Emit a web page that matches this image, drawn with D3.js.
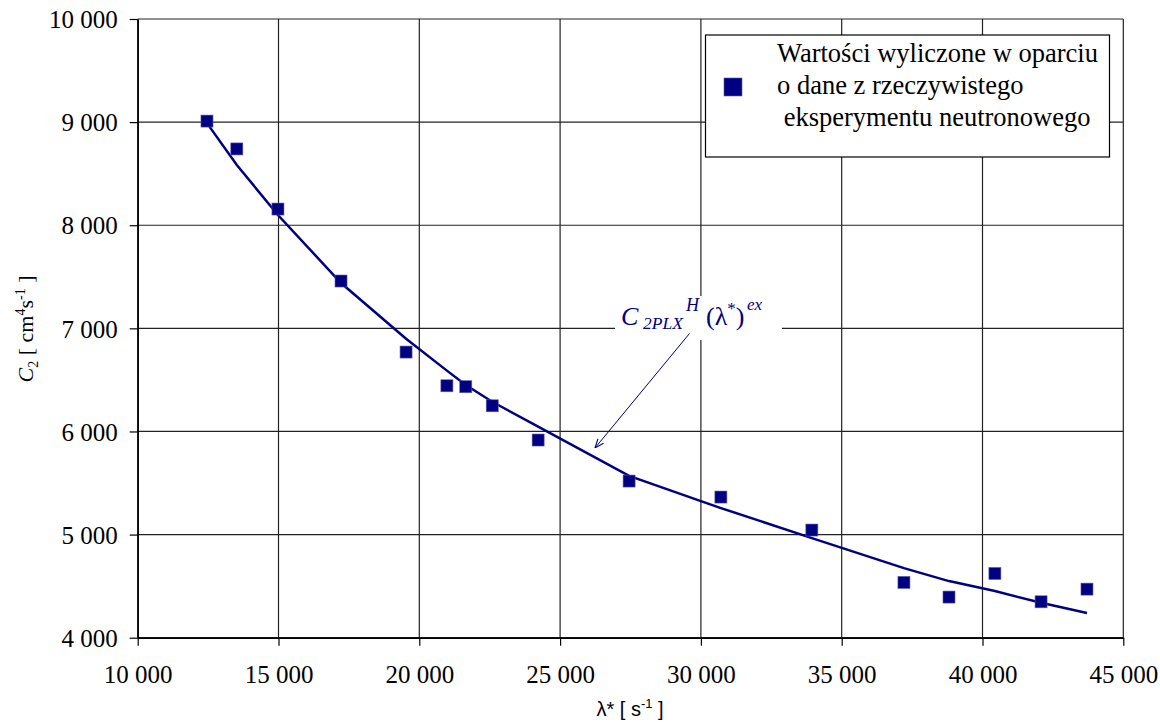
<!DOCTYPE html>
<html>
<head>
<meta charset="utf-8">
<script src="https://cdn.jsdelivr.net/npm/d3@7"></script>
<style>
  body { margin: 0; background: #fff; }
  svg { display: block; }
  .serif { font-family: "Liberation Serif", "Times New Roman", serif; }
  .sans { font-family: "Liberation Sans", Arial, sans-serif; }
</style>
</head>
<body>
<div class="plot"></div>
<script>
// measured points (lambda*, C2)
const lambdaVals = [12460, 13520, 14980, 17220, 19530, 20980, 21650, 22590, 24220, 27450, 30710, 33940, 37210, 38810, 40440, 42080, 43710];
const c2Vals     = [9010, 8740, 8157, 7459, 6770, 6443, 6434, 6249, 5917, 5519, 5364, 5044, 4536, 4394, 4623, 4348, 4471];
// fitted curve C2PLX^H(lambda*)^ex at the same lambda*
const fitVals    = [8990, 8584, 8099, 7440, 6900, 6590, 6450, 6288, 6046, 5570, 5257, 4966, 4675, 4549, 4452, 4339, 4239];

const xTicks = [10000, 15000, 20000, 25000, 30000, 35000, 40000, 45000];
const yTicks = [4000, 5000, 6000, 7000, 8000, 9000, 10000];
const legendLines = ["Wartości wyliczone w oparciu", "o dane z rzeczywistego", " eksperymentu neutronowego"];

const W = 1160, H = 722;
const navy = "#000080";

const svg = d3.select(".plot")
    .append("svg")
        .attr("width", W)
        .attr("height", H);

const x = d3.scaleLinear().domain([10000, 45000]).range([137.7, 1123.3]);
const y = d3.scaleLinear().domain([4000, 10000]).range([637.7, 19]);

const fmt = d3.formatLocale({decimal: ",", thousands: " ", grouping: [3], currency: ["", ""]}).format(",");

// grid lines
svg.append("g")
    .selectAll("line")
    .data(yTicks)
    .enter()
    .append("line")
        .attr("x1", x(10000))
        .attr("x2", x(45000))
        .attr("y1", d => y(d))
        .attr("y2", d => y(d))
        .attr("stroke", "#222")
        .attr("stroke-width", 1.2);

svg.append("g")
    .selectAll("line")
    .data(xTicks)
    .enter()
    .append("line")
        .attr("x1", d => x(d))
        .attr("x2", d => x(d))
        .attr("y1", y(4000))
        .attr("y2", y(10000))
        .attr("stroke", "#222")
        .attr("stroke-width", 1.2);

// axes
const xAxis = svg.append("g")
    .attr("transform", "translate(0," + y(4000) + ")")
    .call(d3.axisBottom(x).tickValues(xTicks).tickFormat(fmt).tickSize(8).tickSizeOuter(0));
xAxis.attr("font-family", null).attr("font-size", null);
xAxis.select(".domain").attr("stroke", "#000").attr("stroke-width", 1.5);
xAxis.selectAll(".tick line").attr("stroke", "#000").attr("stroke-width", 1.2);
xAxis.selectAll(".tick text")
    .attr("class", "serif")
    .style("font-size", "25px")
    .attr("fill", "#000")
    .attr("dy", 0)
    .attr("y", 45);

const yAxis = svg.append("g")
    .attr("transform", "translate(" + x(10000) + ",0)")
    .call(d3.axisLeft(y).tickValues(yTicks).tickFormat(fmt).tickSize(8).tickSizeOuter(0));
yAxis.attr("font-family", null).attr("font-size", null);
yAxis.select(".domain").attr("stroke", "#000").attr("stroke-width", 1.5);
yAxis.selectAll(".tick line").attr("stroke", "#000").attr("stroke-width", 1.2);
yAxis.selectAll(".tick text")
    .attr("class", "serif")
    .style("font-size", "25px")
    .attr("fill", "#000")
    .attr("x", -20)
    .attr("dy", "0.35em");

// fitted curve
const line = d3.line()
    .x((d, i) => x(lambdaVals[i]))
    .y(d => y(d));

svg.append("path")
    .datum(fitVals)
    .attr("d", line)
    .attr("fill", "none")
    .attr("stroke", navy)
    .attr("stroke-width", 2.5);

// measured points
const sq = 12;
svg.append("g")
    .selectAll("rect")
    .data(c2Vals)
    .enter()
    .append("rect")
        .attr("x", (d, i) => x(lambdaVals[i]) - sq / 2)
        .attr("y", d => y(d) - sq / 2)
        .attr("width", sq)
        .attr("height", sq)
        .attr("fill", navy)
        .attr("stroke", "#5a5ab0")
        .attr("stroke-width", 0.6);

// legend
const legend = svg.append("g").attr("transform", "translate(705.5,35)");
legend.append("rect")
    .attr("width", 404)
    .attr("height", 122)
    .attr("fill", "#fff")
    .attr("stroke", "#000")
    .attr("stroke-width", 1.2);
legend.append("rect")
    .attr("x", 18.5)
    .attr("y", 43)
    .attr("width", 18)
    .attr("height", 18)
    .attr("fill", navy)
    .attr("stroke", "#5a5ab0")
    .attr("stroke-width", 0.6);
legend.selectAll("text.leg")
    .data(legendLines)
    .enter()
    .append("text")
        .attr("class", "leg serif")
        .attr("x", 71.5)
        .attr("y", (d, i) => 27 + i * 32.2)
        .style("font-size", "26.5px")
        .style("white-space", "pre")
        .attr("fill", "#000")
        .text(d => d);

// annotation of the fitted curve
const arrowTo = [26240, 5840];
svg.append("defs").append("marker")
    .attr("id", "arr")
    .attr("viewBox", "0 0 10 10")
    .attr("refX", 10)
    .attr("refY", 5)
    .attr("markerWidth", 9)
    .attr("markerHeight", 9)
    .attr("orient", "auto")
    .append("path")
        .attr("d", "M0,1 L10,5 L0,9")
        .attr("fill", "none")
        .attr("stroke", navy)
        .attr("stroke-width", 1.2);

svg.append("rect")
    .attr("x", 615)
    .attr("y", 296)
    .attr("width", 167)
    .attr("height", 44)
    .attr("fill", "#fff");

svg.append("line")
    .attr("x1", 689.5)
    .attr("y1", 333.5)
    .attr("x2", x(arrowTo[0]))
    .attr("y2", y(arrowTo[1]))
    .attr("stroke", navy)
    .attr("stroke-width", 1)
    .attr("marker-end", "url(#arr)");

const ann = svg.append("text")
    .attr("class", "serif")
    .attr("fill", navy)
    .attr("y", 325);
ann.append("tspan").attr("x", 621).style("font-size", "26px").style("font-style", "italic").text("C");
ann.append("tspan").attr("x", 643).attr("y", 329).style("font-size", "17.5px").style("font-style", "italic").text("2PLX");
ann.append("tspan").attr("x", 686).attr("y", 311).style("font-size", "18px").style("font-style", "italic").text("H");
ann.append("tspan").attr("x", 706).attr("y", 325).style("font-size", "26px").text("(λ");
ann.append("tspan").attr("dy", -11).style("font-size", "17px").text("*");
ann.append("tspan").attr("dy", 11).style("font-size", "26px").text(")");
ann.append("tspan").attr("x", 747).attr("y", 310).style("font-size", "17px").style("font-style", "italic").text("ex");

// y axis title
const yt = svg.append("text")
    .attr("class", "serif")
    .attr("transform", "translate(33,329) rotate(-90)")
    .attr("text-anchor", "middle")
    .style("font-size", "22px")
    .attr("fill", "#000");
yt.append("tspan").style("font-style", "italic").text("C");
yt.append("tspan").style("font-size", "14px").attr("dy", 5).text("2");
yt.append("tspan").attr("dy", -5).text(" [ cm");
yt.append("tspan").style("font-size", "14px").attr("dy", -8).text("4");
yt.append("tspan").attr("dy", 8).text("s");
yt.append("tspan").style("font-size", "14px").attr("dy", -8).text("-1");
yt.append("tspan").attr("dy", 8).text(" ]");

// x axis title
const xt = svg.append("text")
    .attr("class", "sans")
    .attr("x", 630)
    .attr("y", 716)
    .attr("text-anchor", "middle")
    .style("font-size", "20px")
    .attr("fill", "#000");
xt.append("tspan").text("λ* [ s");
xt.append("tspan").style("font-size", "13px").attr("dy", -8).text("-1");
xt.append("tspan").attr("dy", 8).text(" ]");
</script>
</body>
</html>
